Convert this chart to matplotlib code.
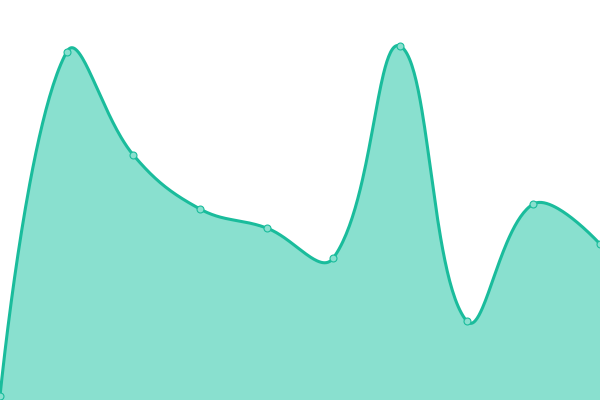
import numpy as np
import matplotlib
matplotlib.use("Agg")
import matplotlib.pyplot as plt

# values (pixel height above bottom)
labels = ["A", "B", "C", "D", "E", "F", "G", "H", "I", "J"]
values = [4, 348, 245, 191, 172, 142, 354, 79, 196, 156]

line_color = "#1abc9c"
fill_color = "#89e0cf"

fig = plt.figure(figsize=(6, 4), dpi=100)
ax = fig.add_axes([0, 0, 1, 1])
ax.set_xlim(0, len(values) - 1)
ax.set_ylim(0, 400)
ax.axis("off")

x = np.arange(len(values), dtype=float)
y = np.array(values, dtype=float)

# smooth curve like a bezier spline with tension 0.4, computed in pixels
pts = ax.transData.transform(np.column_stack([x, y]))
tension = 0.4
n = len(pts)
cp_prev = pts.copy()
cp_next = pts.copy()
for i in range(1, n - 1):
    p0, p1, p2 = pts[i - 1], pts[i], pts[i + 1]
    d01 = np.hypot(*(p1 - p0))
    d12 = np.hypot(*(p2 - p1))
    s01 = d01 / (d01 + d12)
    s12 = d12 / (d01 + d12)
    cp_prev[i] = p1 - tension * s01 * (p2 - p0)
    cp_next[i] = p1 + tension * s12 * (p2 - p0)

curve = []
t = np.linspace(0, 1, 60)[:, None]
for i in range(n - 1):
    a, b, c, d = pts[i], cp_next[i], cp_prev[i + 1], pts[i + 1]
    seg = (1 - t) ** 3 * a + 3 * (1 - t) ** 2 * t * b + 3 * (1 - t) * t ** 2 * c + t ** 3 * d
    curve.append(seg if i == 0 else seg[1:])
curve = np.vstack(curve)
curve = ax.transData.inverted().transform(curve)

ax.fill_between(curve[:, 0], curve[:, 1], 0, color=fill_color, linewidth=0)
ax.plot(curve[:, 0], curve[:, 1], color=line_color, linewidth=2.2, solid_capstyle="round")
ax.plot(x, y, "o", markersize=5, markerfacecolor=fill_color,
        markeredgecolor=line_color, markeredgewidth=0.8, clip_on=False)

fig.savefig("out.png", dpi=100)
